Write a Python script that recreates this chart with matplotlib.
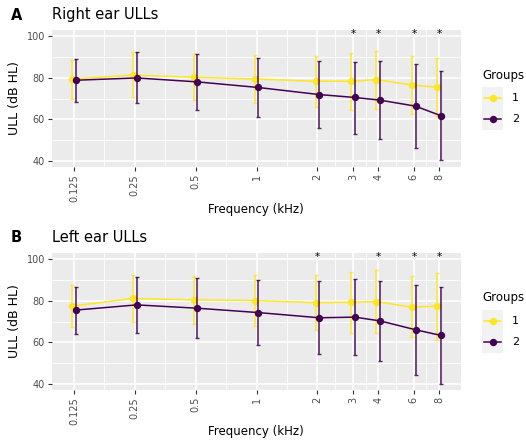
import numpy as np
import matplotlib
matplotlib.use("Agg")
import matplotlib.pyplot as plt
from matplotlib.lines import Line2D
from matplotlib.patches import Rectangle

freqs = [0.125, 0.25, 0.5, 1, 2, 3, 4, 6, 8]
tick_labels = ["0.125", "0.25", "0.5", "1", "2", "3", "4", "6", "8"]

# Right ear (panel A)
right_g1_mean = [79.4, 81.3, 80.2, 79.4, 78.3, 78.3, 79.1, 76.5, 75.4]
right_g1_low = [70.0, 70.8, 69.2, 67.9, 65.9, 64.7, 65.1, 62.5, 61.7]
right_g1_high = [88.5, 92.2, 91.5, 90.9, 90.7, 91.9, 93.1, 90.4, 89.3]
right_g2_mean = [78.8, 79.9, 78.0, 75.3, 71.9, 70.5, 69.2, 66.3, 61.7]
right_g2_low = [68.2, 67.6, 64.6, 61.1, 55.8, 53.1, 50.4, 46.1, 40.2]
right_g2_high = [89.0, 92.2, 91.5, 89.6, 88.0, 87.7, 88.0, 86.8, 83.2]
right_sig = [3, 4, 6, 8]

# Left ear (panel B)
left_g1_mean = [77.4, 81.1, 80.4, 80.1, 79.1, 79.3, 79.6, 76.9, 77.4]
left_g1_low = [67.4, 69.7, 68.6, 67.6, 65.7, 64.5, 64.5, 62.5, 61.3]
left_g1_high = [87.8, 92.6, 92.0, 92.6, 92.5, 93.7, 94.7, 91.7, 93.6]
left_g2_mean = [75.5, 78.0, 76.4, 74.3, 71.8, 72.1, 70.3, 66.0, 63.3]
left_g2_low = [63.9, 64.7, 62.0, 58.6, 54.4, 53.8, 50.9, 44.2, 40.0]
left_g2_high = [86.8, 91.3, 91.0, 90.1, 89.3, 90.5, 89.7, 87.6, 86.4]
left_sig = [2, 4, 6, 8]

groups = ["1", "2"]
YELLOW = "#FDE725"
PURPLE = "#440154"
BG = "#EBEBEB"
GRAY_TXT = "#4D4D4D"

W, H = 526, 446
fig = plt.figure(figsize=(W / 100, H / 100), dpi=100)


def fx(px):
    return px / W


def fy(py):
    return 1 - py / H


def panel(top, bottom, letter, title, g1, g2, sig, xlab_y):
    ax = fig.add_axes([fx(52), fy(bottom), fx(461) - fx(52), (bottom - top) / H])
    ax.set_facecolor(BG)
    ax.set_xscale("log", base=2)
    ax.set_xlim(2 ** -3.36, 2 ** 3.36)
    ax.set_ylim(37.0, 103.0)
    for s in ax.spines.values():
        s.set_visible(False)
    # grid
    lf = np.log2(freqs)
    minors = 2 ** ((lf[:-1] + lf[1:]) / 2)
    for m in minors:
        ax.axvline(m, color="white", lw=0.6, zorder=0)
    for m in [50, 70, 90]:
        ax.axhline(m, color="white", lw=0.6, zorder=0)
    for f in freqs:
        ax.axvline(f, color="white", lw=1.2, zorder=0.5)
    for v in [40, 60, 80, 100]:
        ax.axhline(v, color="white", lw=1.2, zorder=0.5)
    ax.set_xticks(freqs)
    ax.set_xticklabels(tick_labels, rotation=90)
    ax.xaxis.set_minor_locator(matplotlib.ticker.NullLocator())
    ax.set_yticks([40, 60, 80, 100])
    ax.tick_params(axis="both", colors="#333333", labelcolor=GRAY_TXT,
                   labelsize=7, length=3, width=0.8, pad=2)

    for (mean, lo, hi), col, off, z in [(g1, YELLOW, -0.03, 2), (g2, PURPLE, 0.03, 3)]:
        x = np.array(freqs) * 2 ** off
        mean = np.array(mean)
        yerr = [mean - np.array(lo), np.array(hi) - mean]
        ax.errorbar(x, mean, yerr=yerr, fmt="none", ecolor=col, elinewidth=1.2,
                    capsize=1.5, capthick=1.0, alpha=0.85, zorder=z)
        ax.plot(x, mean, color=col, lw=1.1, marker="o", ms=4.3, zorder=z + 0.5)
    for s in sig:
        ax.text(s, 101.2, "*", ha="center", va="center", fontsize=7.5, color="black")

    ax.set_ylabel("ULL (dB HL)", fontsize=9, color="black", labelpad=4)
    fig.text(fx(256), fy(xlab_y), "Frequency (kHz)", fontsize=8.5,
             ha="center", va="center")
    fig.text(fx(11), fy(top - 15), letter, fontsize=10.5, fontweight="bold",
             ha="left", va="center")
    fig.text(fx(52), fy(top - 15), title, fontsize=10.5, ha="left", va="center")
    return ax


axA = panel(30, 167, "A", "Right ear ULLs",
            (right_g1_mean, right_g1_low, right_g1_high),
            (right_g2_mean, right_g2_low, right_g2_high), right_sig, 210)
axB = panel(253, 390, "B", "Left ear ULLs",
            (left_g1_mean, left_g1_low, left_g1_high),
            (left_g2_mean, left_g2_low, left_g2_high), left_sig, 432)


def legend(title_y, key_top):
    fig.text(fx(482), fy(title_y), "Groups", fontsize=8.5, ha="left", va="center")
    for i, (g, col) in enumerate(zip(groups, [YELLOW, PURPLE])):
        y0 = key_top + i * 21.5
        fig.patches.append(Rectangle((fx(482), fy(y0 + 21.5)), 21 / W, 21.5 / H,
                                     transform=fig.transFigure, facecolor="#F2F2F2",
                                     edgecolor="none"))
        yc = y0 + 10.75
        fig.lines.append(Line2D([fx(484), fx(501)], [fy(yc), fy(yc)], color=col, lw=1.1,
                                transform=fig.transFigure))
        fig.lines.append(Line2D([fx(492.5)], [fy(yc)], color=col, marker="o", ms=4.3,
                                transform=fig.transFigure))
        fig.text(fx(512), fy(yc), g, fontsize=8, ha="left", va="center")


legend(75, 87)
legend(297, 310)

fig.savefig("out.png", dpi=100)
